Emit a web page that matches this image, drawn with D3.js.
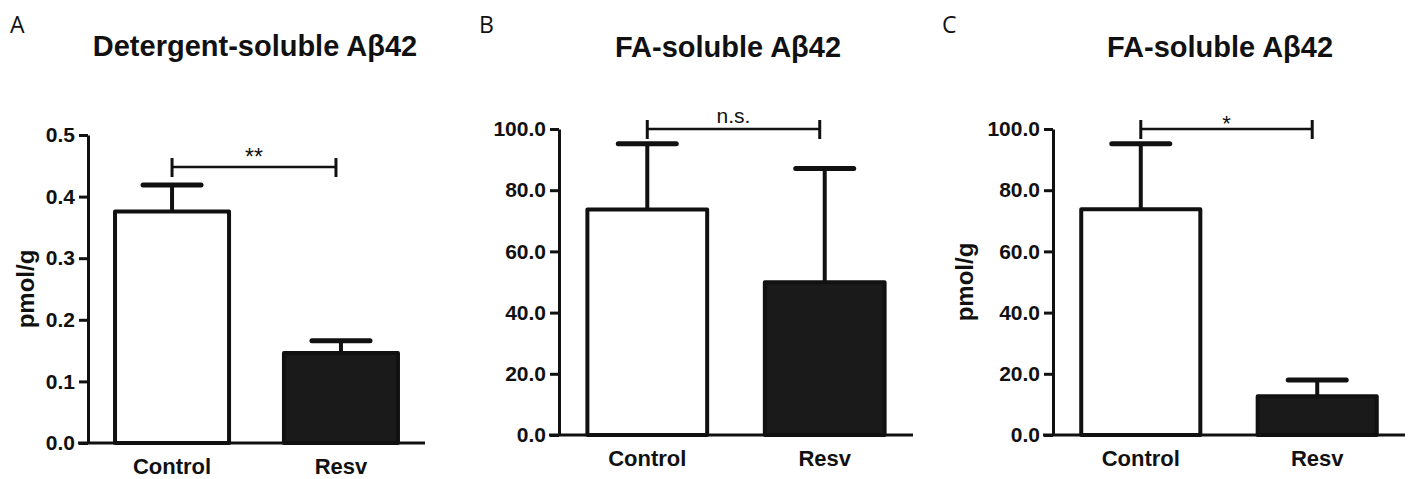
<!DOCTYPE html>
<html>
<head>
<meta charset="utf-8">
<script src="https://cdn.jsdelivr.net/npm/d3@7"></script>
<style>
  body { margin: 0; background: #fff; }
  svg { display: block; }
  text { font-family: "Liberation Sans", Arial, sans-serif; fill: #111; }
</style>
</head>
<body>
<div id="chart"></div>
<script>
// groups
var categories = ["Control", "Resv"];

// panel A - detergent-soluble Abeta42 (pmol/g)
var meanA = [0.376, 0.146];
var semA = [0.043, 0.020];
var ticksA = [0, 0.1, 0.2, 0.3, 0.4, 0.5];

// panel B - FA-soluble Abeta42
var meanB = [73.7, 49.9];
var semB = [21.5, 37.2];

// panel C - FA-soluble Abeta42
var meanC = [73.8, 12.7];
var semC = [21.4, 5.3];
var ticksFA = [0, 20, 40, 60, 80, 100];

var titles = ["Detergent-soluble A\u03b242", "FA-soluble A\u03b242", "FA-soluble A\u03b242"];
var letters = ["A", "B", "C"];
var sigLabels = ["**", "n.s.", "*"];
var sigLevel = [0.448, 100, 100];
var yLabel = "pmol/g";

var fills = ["#fff", "#1a1a1a"];

var panels = [
  { mean: meanA, sem: semA, ticks: ticksA, yMax: 0.5, left: 88, right: 425, top: 135, bottom: 443,
    titleX: 255, titleY: 56, letterX: 10, showLabel: true, labelX: 26, sigSize: 23, sigDy: -2 },
  { mean: meanB, sem: semB, ticks: ticksFA, yMax: 100, left: 559, right: 913, top: 129, bottom: 435,
    titleX: 728, titleY: 57, letterX: 479, showLabel: false, sigSize: 21, sigDy: -6 },
  { mean: meanC, sem: semC, ticks: ticksFA, yMax: 100, left: 1053, right: 1405, top: 129, bottom: 435,
    titleX: 1220, titleY: 57, letterX: 942, showLabel: true, labelX: 965, sigSize: 22, sigDy: 2 }
];

var svg = d3.select("#chart").append("svg")
    .attr("width", 1413)
    .attr("height", 479);

panels.forEach(function(p, k) {
  var g = svg.append("g");

  var x = d3.scaleBand()
      .domain(categories)
      .range([p.left, p.right])
      .paddingInner(0.325)
      .paddingOuter(0.16);

  var y = d3.scaleLinear()
      .domain([0, p.yMax])
      .range([p.bottom, p.top]);

  // bars
  g.selectAll("rect.bar")
      .data(categories)
    .enter().append("rect")
      .attr("class", "bar")
      .attr("x", function(d) { return x(d); })
      .attr("y", function(d, i) { return y(p.mean[i]); })
      .attr("width", x.bandwidth())
      .attr("height", function(d, i) { return y(0) - y(p.mean[i]); })
      .attr("fill", function(d, i) { return fills[i]; })
      .attr("stroke", "#111")
      .attr("stroke-width", 4)
      .attr("stroke-linejoin", "round");

  // error bars (upper only)
  var eb = g.selectAll("g.err")
      .data(categories)
    .enter().append("g")
      .attr("class", "err");

  eb.append("line")
      .attr("x1", function(d) { return x(d) + x.bandwidth() / 2; })
      .attr("x2", function(d) { return x(d) + x.bandwidth() / 2; })
      .attr("y1", function(d, i) { return y(p.mean[i]); })
      .attr("y2", function(d, i) { return y(p.mean[i] + p.sem[i]); })
      .attr("stroke", "#111")
      .attr("stroke-width", 4);

  eb.append("line")
      .attr("x1", function(d) { return x(d) + x.bandwidth() / 2 - 29; })
      .attr("x2", function(d) { return x(d) + x.bandwidth() / 2 + 29; })
      .attr("y1", function(d, i) { return y(p.mean[i] + p.sem[i]); })
      .attr("y2", function(d, i) { return y(p.mean[i] + p.sem[i]); })
      .attr("stroke", "#111")
      .attr("stroke-width", 5)
      .attr("stroke-linecap", "round");

  // y axis
  var yAxis = d3.axisLeft(y)
      .tickValues(p.ticks)
      .tickFormat(d3.format(".1f"))
      .tickSize(9)
      .tickSizeOuter(0)
      .tickPadding(4);

  var ya = g.append("g")
      .attr("transform", "translate(" + p.left + ",0)")
      .call(yAxis);
  ya.select(".domain").attr("stroke", "#111").attr("stroke-width", 3);
  ya.selectAll(".tick line").attr("stroke", "#111").attr("stroke-width", 3);
  ya.selectAll(".tick text")
      .attr("font-size", 21)
      .attr("font-weight", "bold")
      .attr("fill", "#111");

  // x axis line, runs a tick length left of the y axis
  g.append("line")
      .attr("x1", p.left - 10)
      .attr("x2", p.right)
      .attr("y1", y(0))
      .attr("y2", y(0))
      .attr("stroke", "#111")
      .attr("stroke-width", 3);

  // category labels
  g.selectAll("text.cat")
      .data(categories)
    .enter().append("text")
      .attr("class", "cat")
      .attr("x", function(d) { return x(d) + x.bandwidth() / 2; })
      .attr("y", y(0) + 31)
      .attr("text-anchor", "middle")
      .attr("font-size", 22)
      .attr("font-weight", "bold")
      .text(function(d) { return d; });

  // significance bracket
  var bx1 = x(categories[0]) + x.bandwidth() / 2;
  var bx2 = x(categories[1]) + x.bandwidth() / 2 - 5;
  var by = y(sigLevel[k]);
  var br = g.append("g").attr("stroke", "#111");
  br.append("line").attr("x1", bx1).attr("x2", bx2).attr("y1", by).attr("y2", by).attr("stroke-width", 2.5);
  br.append("line").attr("x1", bx1).attr("x2", bx1).attr("y1", by - 9).attr("y2", by + 10).attr("stroke-width", 3);
  br.append("line").attr("x1", bx2).attr("x2", bx2).attr("y1", by - 9).attr("y2", by + 10).attr("stroke-width", 3);

  g.append("text")
      .attr("x", (bx1 + bx2) / 2)
      .attr("y", by + p.sigDy)
      .attr("text-anchor", "middle")
      .attr("font-size", p.sigSize)
      .text(sigLabels[k]);

  // title
  g.append("text")
      .attr("x", p.titleX)
      .attr("y", p.titleY)
      .attr("text-anchor", "middle")
      .attr("font-size", 29)
      .attr("font-weight", "bold")
      .text(titles[k]);

  // panel letter
  g.append("text")
      .attr("x", p.letterX)
      .attr("y", 33)
      .attr("font-size", 23)
      .style("font-family", "'Open Sans', sans-serif")
      .text(letters[k]);

  // y label
  if (p.showLabel) {
    var cy = (p.top + p.bottom) / 2;
    g.append("text")
        .attr("transform", "translate(" + (p.labelX + 8) + "," + cy + ") rotate(-90)")
        .attr("text-anchor", "middle")
        .attr("font-size", 24)
        .attr("font-weight", "bold")
        .text(yLabel);
  }
});
</script>
</body>
</html>
